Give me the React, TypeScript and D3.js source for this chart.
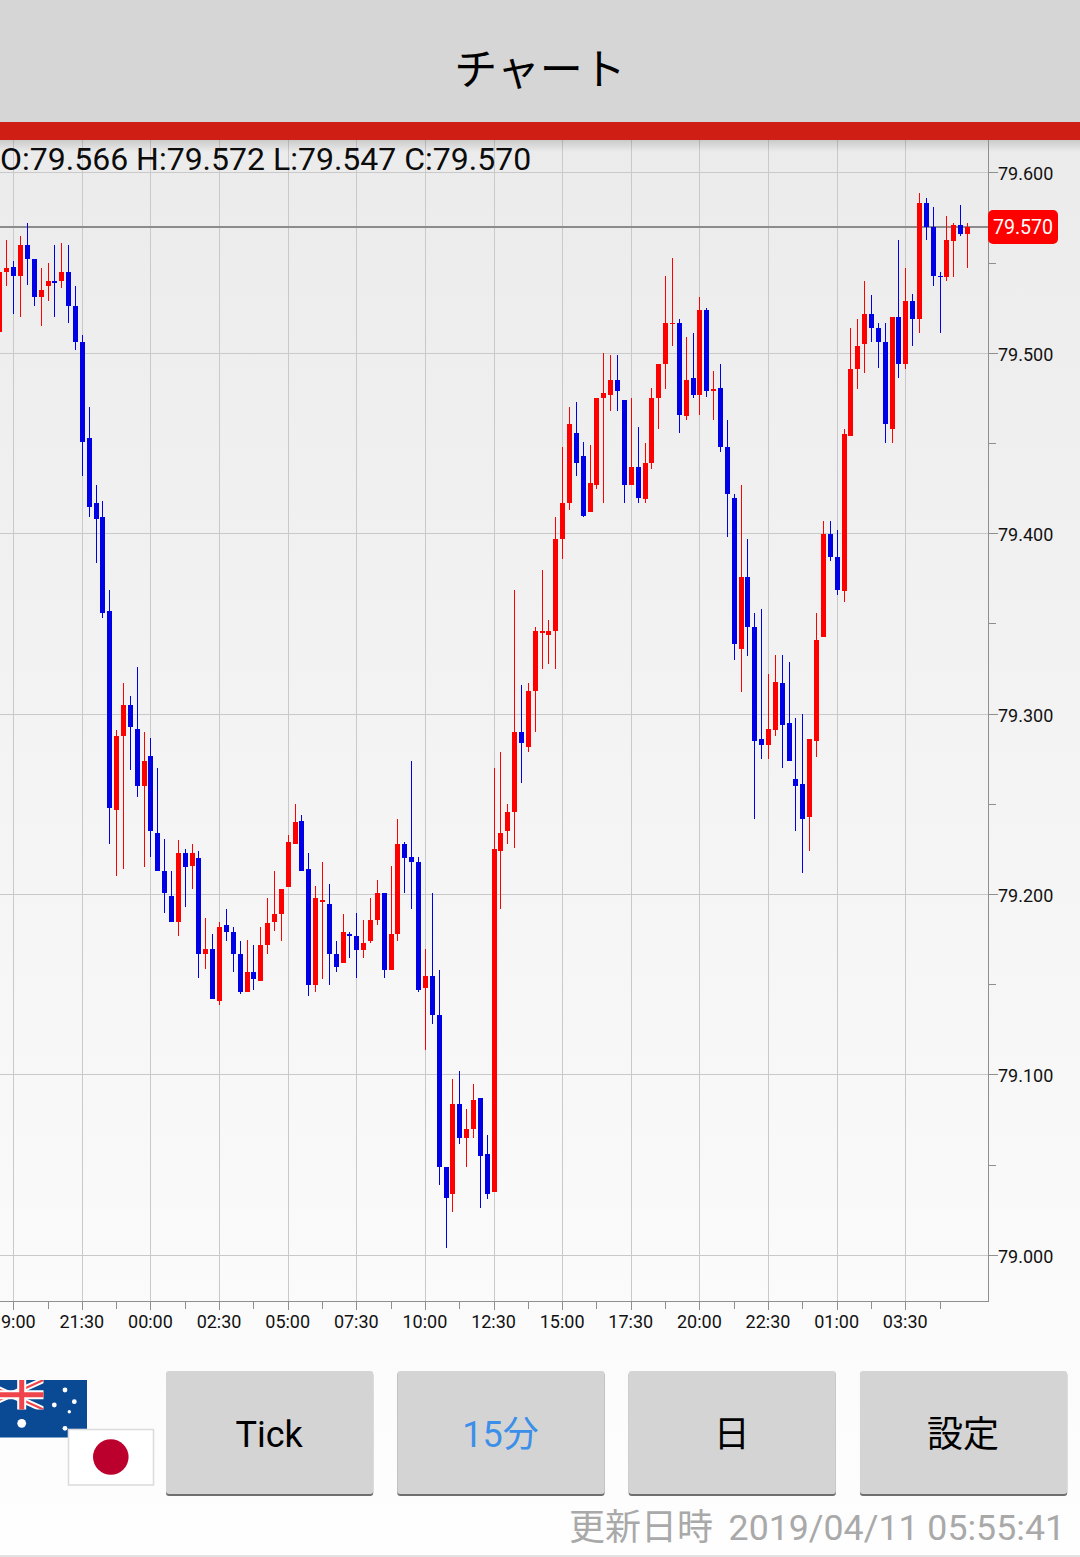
import React from "react";
import * as d3 from "d3";

// AUD/JPY 15-minute candles, left to right (the first two lie before the 19:00 grid line)
const opens = [
79.512,79.545,79.548,79.543,79.560,79.552,79.531,79.537,79.540,79.540,
79.545,79.526,79.506,79.453,79.417,79.409,79.357,79.247,79.288,79.305,
79.292,79.260,79.277,79.234,79.213,79.199,79.185,79.223,79.216,79.220,
79.167,79.170,79.141,79.183,79.179,79.167,79.146,79.157,79.152,79.172,
79.185,79.189,79.204,79.228,79.241,79.214,79.150,79.196,79.195,79.167,
79.162,79.178,79.177,79.169,79.174,79.186,79.201,79.158,79.178,79.228,
79.221,79.218,79.148,79.155,79.133,79.049,79.034,79.084,79.065,79.070,
79.087,79.056,79.035,79.224,79.235,79.246,79.290,79.282,79.313,79.345,
79.344,79.346,79.397,79.417,79.456,79.443,79.412,79.427,79.475,79.477,
79.485,79.474,79.427,79.437,79.419,79.439,79.475,79.494,79.516,79.517,
79.465,79.486,79.477,79.524,79.479,79.481,79.448,79.420,79.336,79.376,
79.348,79.286,79.283,79.291,79.317,79.295,79.264,79.261,79.243,79.285,
79.343,79.400,79.387,79.368,79.454,79.491,79.505,79.522,79.514,79.506,
79.458,79.520,79.494,79.529,79.519,79.583,79.570,79.543,79.542,79.562,
79.571,79.566];
const highs = [
79.550,79.563,79.551,79.565,79.572,79.552,79.547,79.550,79.560,79.561,
79.560,79.537,79.510,79.470,79.427,79.418,79.369,79.291,79.317,79.310,
79.326,79.290,79.287,79.270,79.231,79.213,79.230,79.225,79.228,79.224,
79.187,79.178,79.185,79.192,79.182,79.174,79.175,79.172,79.182,79.198,
79.213,79.203,79.233,79.250,79.244,79.223,79.205,79.218,79.206,79.174,
79.189,79.179,79.190,79.186,79.198,79.208,79.201,79.216,79.242,79.229,
79.274,79.221,79.170,79.201,79.158,79.049,79.098,79.102,79.081,79.095,
79.087,79.067,79.270,79.279,79.250,79.369,79.316,79.317,79.348,79.380,
79.352,79.409,79.448,79.470,79.473,79.451,79.449,79.475,79.500,79.499,
79.499,79.474,79.475,79.459,79.450,79.481,79.494,79.543,79.553,79.519,
79.509,79.511,79.531,79.525,79.490,79.494,79.463,79.422,79.427,79.397,
79.356,79.358,79.322,79.333,79.333,79.329,79.298,79.300,79.286,79.356,
79.407,79.407,79.402,79.458,79.514,79.519,79.540,79.532,79.517,79.517,
79.520,79.563,79.547,79.533,79.589,79.586,79.581,79.545,79.576,79.572,
79.582,79.572];
const lows = [
79.512,79.537,79.522,79.520,79.538,79.526,79.515,79.529,79.520,79.536,
79.517,79.502,79.432,79.409,79.384,79.353,79.228,79.210,79.214,79.269,
79.254,79.215,79.221,79.213,79.190,79.185,79.177,79.193,79.203,79.154,
79.159,79.142,79.139,79.174,79.157,79.145,79.146,79.147,79.152,79.167,
79.180,79.174,79.204,79.228,79.213,79.144,79.146,79.153,79.150,79.157,
79.162,79.165,79.154,79.165,79.173,79.183,79.154,79.158,79.174,79.201,
79.192,79.146,79.114,79.128,79.039,79.004,79.024,79.062,79.049,79.065,
79.026,79.031,79.035,79.192,79.228,79.226,79.262,79.279,79.290,79.325,
79.328,79.325,79.386,79.413,79.432,79.409,79.412,79.425,79.417,79.468,
79.468,79.417,79.427,79.417,79.417,79.436,79.458,79.480,79.504,79.456,
79.463,79.475,79.466,79.476,79.463,79.445,79.398,79.330,79.312,79.332,
79.242,79.275,79.275,79.288,79.270,79.274,79.235,79.212,79.224,79.276,
79.343,79.385,79.366,79.362,79.454,79.480,79.489,79.506,79.492,79.450,
79.450,79.486,79.491,79.504,79.511,79.563,79.537,79.511,79.540,79.542,
79.565,79.547];
const closes = [
79.545,79.547,79.543,79.560,79.552,79.531,79.535,79.540,79.539,79.545,
79.526,79.506,79.451,79.415,79.408,79.356,79.248,79.288,79.305,79.293,
79.260,79.274,79.235,79.213,79.201,79.185,79.223,79.215,79.223,79.167,
79.170,79.142,79.182,79.179,79.167,79.146,79.157,79.153,79.172,79.184,
79.189,79.203,79.229,79.240,79.213,79.150,79.198,79.197,79.167,79.160,
79.179,79.177,79.169,79.173,79.186,79.201,79.158,79.178,79.228,79.220,
79.218,79.147,79.155,79.133,79.049,79.032,79.084,79.065,79.070,79.086,
79.055,79.034,79.225,79.234,79.246,79.290,79.284,79.313,79.346,79.346,
79.346,79.397,79.417,79.461,79.439,79.410,79.428,79.475,79.478,79.485,
79.479,79.427,79.437,79.420,79.439,79.475,79.494,79.517,79.517,79.466,
79.485,79.477,79.524,79.479,79.480,79.448,79.422,79.339,79.376,79.348,
79.285,79.283,79.292,79.318,79.294,79.274,79.260,79.242,79.286,79.341,
79.400,79.387,79.369,79.455,79.491,79.504,79.522,79.514,79.506,79.461,
79.520,79.494,79.529,79.519,79.583,79.570,79.543,79.542,79.563,79.571,
79.566,79.570];

const timeLabels = ["19:00","21:30","00:00","02:30","05:00","07:30","10:00","12:30","15:00","17:30","20:00","22:30","01:00","03:30"];
const priceLabels = [79.6, 79.5, 79.4, 79.3, 79.2, 79.1, 79.0];
const minorPrices = [79.55, 79.45, 79.35, 79.25, 79.15, 79.05];
const ohlcText = "O:79.566 H:79.572 L:79.547 C:79.570";
const lastPrice = 79.57;
const buttonLabels = ["Tick", "15分", "日", "設定"];
const updatedLabel = "更新日時";
const updatedStamp = "2019/04/11 05:55:41";

const UP = "#ff0000";
const DOWN = "#0000e6";
const FONT = "Roboto, 'Noto Sans CJK JP', sans-serif";
const CJK = "'Noto Sans CJK JP', Roboto, sans-serif";

const PLOT_RIGHT = 988;
const PLOT_TOP = 140;
const PLOT_BOTTOM = 1301;

const x = d3.scaleLinear().domain([2, 132]).range([13.7, 905.76]);
const y = d3.scaleLinear().domain([79.6, 79.0]).range([172.8, 1255.4]);
const crisp = (v: number) => Math.floor(v) + 0.5;

const majorTicks = timeLabels.map((_, k) => 2 + k * 10);
const minorTicks = timeLabels.map((_, k) => 7 + k * 10);

const buttonX = d3.scaleBand<number>().domain([0, 1, 2, 3]).range([166, 1068]).paddingInner(0.1008);

function AussieFlag() {
  const stars: [number, number, number][] = [[65, 1390, 2.4], [74.3, 1401.7, 2.4], [54.3, 1405, 2.4], [69.3, 1411.7, 1.7], [65, 1428.3, 2.4], [21.7, 1423.3, 4.4]];
  return (
    <g>
      <rect x={0} y={1380} width={87} height={57.5} fill="#0a4a95" />
      <clipPath id="union"><rect x={0} y={1380} width={43.5} height={29.5} /></clipPath>
      <g clipPath="url(#union)">
        <path d="M-22 1380L43.5 1409.5M43.5 1380L-22 1409.5" stroke="#fff" strokeWidth={6} />
        <path d="M-22 1380L43.5 1409.5M43.5 1380L-22 1409.5" stroke="#f0444c" strokeWidth={2.2} />
        <path d="M21.7 1380V1410M-22 1394.7H44" stroke="#fff" strokeWidth={9} />
        <path d="M21.7 1380V1410M-22 1394.7H44" stroke="#f0444c" strokeWidth={5} />
      </g>
      {stars.map(([cx, cy, r], i) => <circle key={i} cx={cx} cy={cy} r={r} fill="#fff" />)}
    </g>
  );
}

function JapanFlag() {
  return (
    <g>
      <rect x={68.5} y={1429.5} width={85} height={55.5} fill="#fff" stroke="#dcdcdc" strokeWidth={1.6} />
      <circle cx={110.8} cy={1457} r={17.8} fill="#bc002d" />
    </g>
  );
}

export default function App() {
  return (
    <svg width={1080} height={1557} viewBox="0 0 1080 1557" style={{ position: "absolute", left: 0, top: 0, display: "block" }}>
      <defs>
        <linearGradient id="bg" x1="0" y1="0" x2="0" y2="1">
          <stop offset="0" stopColor="#ebebeb" />
          <stop offset="0.85" stopColor="#fbfbfb" />
          <stop offset="1" stopColor="#fefefe" />
        </linearGradient>
        <linearGradient id="shade" x1="0" y1="0" x2="0" y2="1">
          <stop offset="0" stopColor="#000" stopOpacity={0.14} />
          <stop offset="1" stopColor="#000" stopOpacity={0} />
        </linearGradient>
      </defs>
      <rect x={0} y={122} width={1080} height={1435} fill="url(#bg)" />

      {/* grid */}
      <g shapeRendering="crispEdges" stroke="#c9c9c9" strokeWidth={1}>
        {majorTicks.map((t) => <line key={t} x1={crisp(x(t))} x2={crisp(x(t))} y1={PLOT_TOP} y2={PLOT_BOTTOM} />)}
        {priceLabels.map((p) => <line key={p} x1={0} x2={PLOT_RIGHT} y1={crisp(y(p))} y2={crisp(y(p))} />)}
      </g>

      <rect x={0} y={140} width={1080} height={12} fill="url(#shade)" />

      {/* last price line */}
      <line x1={0} x2={PLOT_RIGHT} y1={y(lastPrice)} y2={y(lastPrice)} stroke="#8c8c8c" strokeWidth={2} shapeRendering="crispEdges" />

      {/* candles */}
      <g shapeRendering="crispEdges">
        {opens.map((o, i) => {
          const c = closes[i];
          const fill = c >= o ? UP : DOWN;
          const col = Math.floor(x(i));
          const hi = Math.round(y(highs[i]));
          const lo = Math.round(y(lows[i]));
          const top = Math.round(y(Math.max(o, c)));
          const bot = Math.round(y(Math.min(o, c)));
          return (
            <g key={i} fill={fill}>
              <rect x={col} y={hi} width={1} height={Math.max(1, lo - hi)} />
              <rect x={col - 2} y={top} width={5} height={Math.max(1, bot - top)} />
            </g>
          );
        })}
      </g>

      {/* axes */}
      <g shapeRendering="crispEdges" stroke="#8f8f8f" strokeWidth={1}>
        <line x1={PLOT_RIGHT + 0.5} x2={PLOT_RIGHT + 0.5} y1={PLOT_TOP} y2={PLOT_BOTTOM + 1} />
        <line x1={0} x2={PLOT_RIGHT + 1} y1={PLOT_BOTTOM + 0.5} y2={PLOT_BOTTOM + 0.5} />
        {majorTicks.map((t) => <line key={t} x1={crisp(x(t))} x2={crisp(x(t))} y1={PLOT_BOTTOM} y2={1310} />)}
        {minorTicks.filter((t) => x(t) < PLOT_RIGHT).map((t) => <line key={t} x1={crisp(x(t))} x2={crisp(x(t))} y1={PLOT_BOTTOM} y2={1309} />)}
        {priceLabels.map((p) => <line key={p} x1={PLOT_RIGHT} x2={998} y1={crisp(y(p))} y2={crisp(y(p))} />)}
        {minorPrices.map((p) => <line key={p} x1={PLOT_RIGHT} x2={996} y1={crisp(y(p))} y2={crisp(y(p))} />)}
      </g>

      {/* axis labels */}
      <g fontFamily={FONT} fontSize={18} fill="#111">
        {priceLabels.map((p) => <text key={p} x={998} y={y(p) + 7.5}>{p.toFixed(3)}</text>)}
        {timeLabels.map((t, k) => <text key={k} x={x(majorTicks[k]) - 0.5} y={1328} textAnchor="middle">{t}</text>)}
      </g>

      <text x={0} y={170} fontFamily={FONT} fontSize={32} fill="#0c0c0c">{ohlcText}</text>

      {/* last price badge */}
      <rect x={988} y={210} width={70} height={34} rx={5} fill="#ff0000" />
      <text x={1023} y={234} textAnchor="middle" fontFamily={FONT} fontSize={19.6} fill="#fff">{lastPrice.toFixed(3)}</text>

      {/* header */}
      <rect x={0} y={0} width={1080} height={122} fill="#d6d6d6" />
      <rect x={0} y={122} width={1080} height={18} fill="#cf1f14" />
      <text x={540} y={84.5} textAnchor="middle" fontFamily={CJK} fontSize={43} fill="#000">チャート</text>

      <AussieFlag />
      <JapanFlag />

      {/* buttons */}
      {buttonLabels.map((label, k) => {
        const bx = buttonX(k) as number;
        const w = buttonX.bandwidth() - 0.8;
        return (
          <g key={label}>
            <rect x={bx} y={1372} width={w} height={124} rx={3} fill="#6f6f6f" />
            <rect x={bx} y={1371} width={w} height={123} rx={3} fill="#d4d4d4" />
            <text x={bx + w / 2 - 0.5} y={1447} textAnchor="middle" fontFamily={FONT} fontSize={36} fill={k === 1 ? "#3b8fe8" : "#000"}>{label}</text>
          </g>
        );
      })}

      <text x={569} y={1540} fontFamily={CJK} fontSize={36} fill="#a9a9a9">{updatedLabel}</text>
      <text x={1065} y={1540} textAnchor="end" fontFamily={FONT} fontSize={35.7} fill="#a9a9a9">{updatedStamp}</text>
      <line x1={0} x2={1080} y1={1556} y2={1556} stroke="#c4c4c4" strokeWidth={1} />
    </svg>
  );
}
